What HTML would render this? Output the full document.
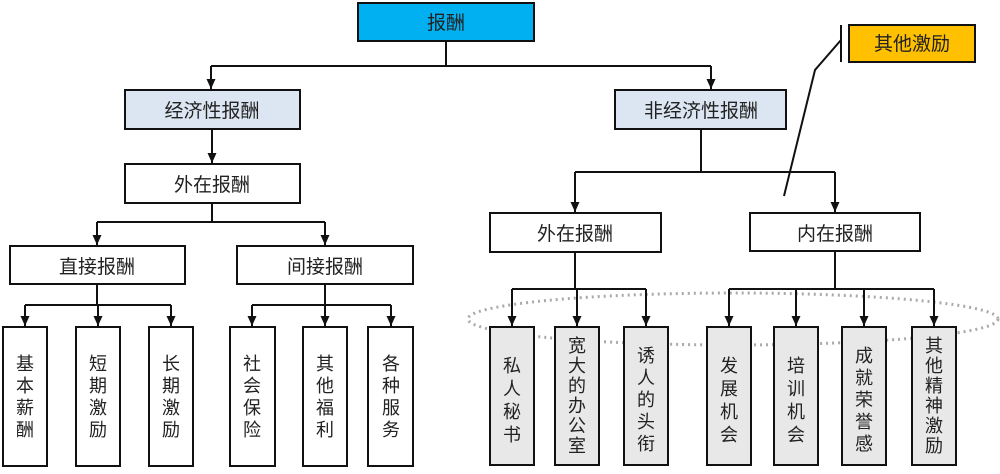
<!DOCTYPE html>
<html><head><meta charset="utf-8"><style>
html,body{margin:0;padding:0;background:#fff;}
svg text{font-family:"Liberation Sans","Noto Sans CJK SC",sans-serif;fill:#222;}
</style></head><body>
<svg width="1000" height="469" viewBox="0 0 1000 469" xmlns="http://www.w3.org/2000/svg">
<defs>
<marker id="b" markerWidth="10" markerHeight="10" refX="10" refY="5" orient="auto" markerUnits="userSpaceOnUse"><path d="M0,0.5 L10,5 L0,9.5 z" fill="#111"/></marker></defs>
<ellipse cx="733" cy="319" rx="265" ry="26" fill="none" stroke="#aaa" stroke-width="3" stroke-dasharray="2,4"/>
<g stroke="#111" stroke-width="2" fill="none">
<path d="M446 41V66M211 66H711"/>
<path d="M211 66V89" marker-end="url(#b)"/>
<path d="M711 66V89" marker-end="url(#b)"/>
<path d="M212 129V163" marker-end="url(#b)"/>
<path d="M212 203V222M97 222H325"/>
<path d="M97 222V245" marker-end="url(#b)"/>
<path d="M325 222V245" marker-end="url(#b)"/>
<path d="M97 284V305M25 305H171M325 284V305M252 305H391"/>
<path d="M25 305V326" marker-end="url(#b)"/><path d="M98 305V326" marker-end="url(#b)"/><path d="M171 305V326" marker-end="url(#b)"/>
<path d="M252 305V326" marker-end="url(#b)"/><path d="M325 305V326" marker-end="url(#b)"/><path d="M391 305V326" marker-end="url(#b)"/>
<path d="M701 129V172M575 172H835"/>
<path d="M575 172V212" marker-end="url(#b)"/><path d="M835 172V212" marker-end="url(#b)"/>
<path d="M575 252V289M512 289H646M835 251V289M729 289H934"/>
<path d="M512 289V326" marker-end="url(#b)"/><path d="M577 289V326" marker-end="url(#b)"/><path d="M646 289V326" marker-end="url(#b)"/>
<path d="M729 289V326" marker-end="url(#b)"/><path d="M796 289V326" marker-end="url(#b)"/><path d="M864 289V326" marker-end="url(#b)"/><path d="M934 289V326" marker-end="url(#b)"/>
<path d="M784 196L815 70L841 40M841 25V62"/>
</g>
<g stroke="#111" stroke-width="2">
<rect x="358" y="3" width="176" height="38" fill="#00b0f0"/>
<rect x="125" y="90" width="175" height="39" fill="#dce6f2"/>
<rect x="615" y="90" width="171" height="39" fill="#dce6f2"/>
<rect x="125" y="164" width="175" height="39" fill="#fff"/>
<rect x="10" y="246" width="175" height="38" fill="#fff"/>
<rect x="237" y="246" width="176" height="38" fill="#fff"/>
<rect x="490" y="213" width="171" height="39" fill="#fff"/>
<rect x="750" y="213" width="170" height="38" fill="#fff"/>
<rect x="849" y="25" width="126" height="37" fill="#ffc000"/>
</g>
<g stroke="#111" stroke-width="2" fill="#fff">
<rect x="3" y="327" width="44" height="139"/><rect x="76" y="327" width="44" height="139"/><rect x="149" y="327" width="44" height="139"/>
<rect x="230" y="327" width="45" height="139"/><rect x="303" y="327" width="44" height="139"/><rect x="368" y="327" width="45" height="139"/>
</g>
<g stroke="#111" stroke-width="2" fill="#e8e8e8">
<rect x="490" y="327" width="44" height="138"/><rect x="555" y="327" width="44" height="138"/><rect x="624" y="327" width="44" height="138"/>
<rect x="707" y="327" width="44" height="138"/><rect x="774" y="327" width="44" height="138"/><rect x="842" y="327" width="44" height="138"/><rect x="912" y="327" width="44" height="138"/>
</g>
<g font-size="19" text-anchor="middle">
<text x="446" y="29">报酬</text>
<text x="212" y="117">经济性报酬</text>
<text x="701" y="117">非经济性报酬</text>
<text x="212" y="191">外在报酬</text>
<text x="97" y="273">直接报酬</text>
<text x="325" y="273">间接报酬</text>
<text x="575" y="240">外在报酬</text>
<text x="835" y="240">内在报酬</text>
<text x="912" y="50">其他激励</text>
</g>
<g font-size="18" text-anchor="middle">
<text><tspan x="25" y="370">基</tspan><tspan x="25" y="392">本</tspan><tspan x="25" y="414">薪</tspan><tspan x="25" y="436">酬</tspan></text>
<text><tspan x="98" y="370">短</tspan><tspan x="98" y="392">期</tspan><tspan x="98" y="414">激</tspan><tspan x="98" y="436">励</tspan></text>
<text><tspan x="171" y="370">长</tspan><tspan x="171" y="392">期</tspan><tspan x="171" y="414">激</tspan><tspan x="171" y="436">励</tspan></text>
<text><tspan x="252" y="370">社</tspan><tspan x="252" y="392">会</tspan><tspan x="252" y="414">保</tspan><tspan x="252" y="436">险</tspan></text>
<text><tspan x="325" y="370">其</tspan><tspan x="325" y="392">他</tspan><tspan x="325" y="414">福</tspan><tspan x="325" y="436">利</tspan></text>
<text><tspan x="391" y="370">各</tspan><tspan x="391" y="392">种</tspan><tspan x="391" y="414">服</tspan><tspan x="391" y="436">务</tspan></text>
<text><tspan x="512" y="372">私</tspan><tspan x="512" y="395">人</tspan><tspan x="512" y="418">秘</tspan><tspan x="512" y="441">书</tspan></text>
<text><tspan x="577" y="352">宽</tspan><tspan x="577" y="372">大</tspan><tspan x="577" y="392">的</tspan><tspan x="577" y="412">办</tspan><tspan x="577" y="432">公</tspan><tspan x="577" y="452">室</tspan></text>
<text><tspan x="646" y="362">诱</tspan><tspan x="646" y="384">人</tspan><tspan x="646" y="406">的</tspan><tspan x="646" y="428">头</tspan><tspan x="646" y="450">衔</tspan></text>
<text><tspan x="729" y="372">发</tspan><tspan x="729" y="395">展</tspan><tspan x="729" y="418">机</tspan><tspan x="729" y="441">会</tspan></text>
<text><tspan x="796" y="372">培</tspan><tspan x="796" y="395">训</tspan><tspan x="796" y="418">机</tspan><tspan x="796" y="441">会</tspan></text>
<text><tspan x="864" y="362">成</tspan><tspan x="864" y="384">就</tspan><tspan x="864" y="406">荣</tspan><tspan x="864" y="428">誉</tspan><tspan x="864" y="450">感</tspan></text>
<text><tspan x="934" y="352">其</tspan><tspan x="934" y="372">他</tspan><tspan x="934" y="392">精</tspan><tspan x="934" y="412">神</tspan><tspan x="934" y="432">激</tspan><tspan x="934" y="452">励</tspan></text>
</g>
</svg>
</body></html>
